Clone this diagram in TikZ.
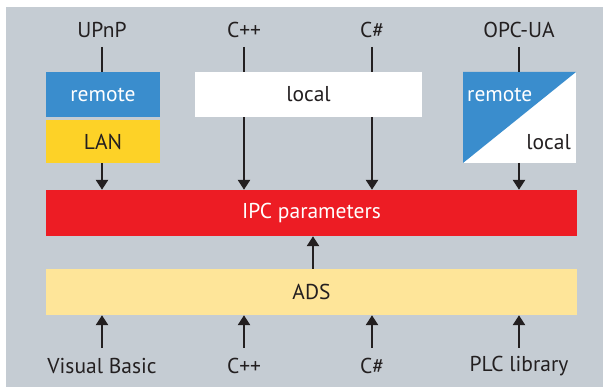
\documentclass[tikz,border=0pt]{standalone}
\usepackage{fontspec}
\setmainfont{PT Sans}
\usetikzlibrary{arrows.meta}
\definecolor{bg}{HTML}{C5CCD3}
\definecolor{rblue}{HTML}{3A8DCD}
\definecolor{lanyel}{HTML}{FDD227}
\definecolor{ipcred}{HTML}{ED1C24}
\definecolor{adsyel}{HTML}{FEE599}
\definecolor{ink}{HTML}{231F20}
\tikzset{
  lbl/.style={font=\fontsize{21.5}{24}\selectfont, text=ink},
  boxtxt/.style={font=\fontsize{21.5}{24}\selectfont},
  arr/.style={draw=ink, line width=2.6pt, -{Triangle[length=10pt,width=12pt]}},
  ln/.style={draw=ink, line width=2.6pt},
}
\begin{document}
\begin{tikzpicture}[x=1pt,y=-1pt]
\useasboundingbox (0,0) rectangle (603,387);
\fill[white] (0,0) rectangle (603,387);
\fill[bg] (6,7) rectangle (603,387);
% top labels
\node[lbl] (tupnp) at (102,30) {UPnP};
\node[lbl] (tcpp) at (244,30) {C++};
\node[lbl] (tcs) at (372,30) {C\#};
\node[lbl] (topc) at (519,30) {OPC-UA};
% boxes
\node[fill=rblue, minimum width=114pt, minimum height=45pt, inner sep=0, text=white, boxtxt] (remote) at (103,94.5) {remote};
\node[fill=lanyel, minimum width=114pt, minimum height=43pt, inner sep=0, text=ink, boxtxt] (lan) at (103,141.5) {LAN};
\node[fill=white, minimum width=227pt, minimum height=45pt, inner sep=0, text=ink, boxtxt] (local) at (308.5,94.5) {local};
\node[fill=ipcred, minimum width=531pt, minimum height=46pt, inner sep=0, text=white, boxtxt] (ipc) at (311.5,213) {IPC parameters};
\node[fill=adsyel, minimum width=531pt, minimum height=46pt, inner sep=0, text=ink, boxtxt] (ads) at (311.5,292) {ADS};
% OPC split box
\coordinate (opcnw) at (463,72);
\coordinate (opcse) at (576,163);
\fill[white] (opcnw) rectangle (opcse);
\fill[rblue] (463,72) -- (576,72) -- (463,163) -- cycle;
\node[boxtxt, text=white, anchor=west, inner sep=0] (oremote) at (467,95) {remote};
\node[boxtxt, text=ink, anchor=east, inner sep=0] (olocal) at (571,142) {local};
% top connectors
\coordinate (upA) at (102,47);
\coordinate (cppA) at (244,47);
\coordinate (csA) at (372,47);
\coordinate (opcA) at (519,47);
\draw[ln] (upA) -- (upA |- remote.north);
\draw[arr] (lan.south -| upA) -- (upA |- ipc.north);
\draw[ln] (cppA) -- (cppA |- local.north);
\draw[arr] (local.south -| cppA) -- (cppA |- ipc.north);
\draw[ln] (csA) -- (csA |- local.north);
\draw[arr] (local.south -| csA) -- (csA |- ipc.north);
\draw[ln] (opcA) -- (opcA |- opcnw);
\draw[arr] (opcse -| opcA) -- (opcA |- ipc.north);
% ADS -> IPC
\coordinate (adsup) at (313,269);
\draw[arr] (adsup) -- (adsup |- ipc.south);
% bottom labels
\node[lbl] (bvb) at (102,366) {Visual Basic};
\node[lbl] (bcpp) at (244,366) {C++};
\node[lbl] (bcs) at (372,366) {C\#};
\node[lbl] (bplc) at (519,366) {PLC library};
\coordinate (vbA) at (102,348);
\coordinate (bcppA) at (244,348);
\coordinate (bcsA) at (372,348);
\coordinate (plcA) at (519,348);
\draw[arr] (vbA) -- (vbA |- ads.south);
\draw[arr] (bcppA) -- (bcppA |- ads.south);
\draw[arr] (bcsA) -- (bcsA |- ads.south);
\draw[arr] (plcA) -- (plcA |- ads.south);
\end{tikzpicture}
\end{document}
